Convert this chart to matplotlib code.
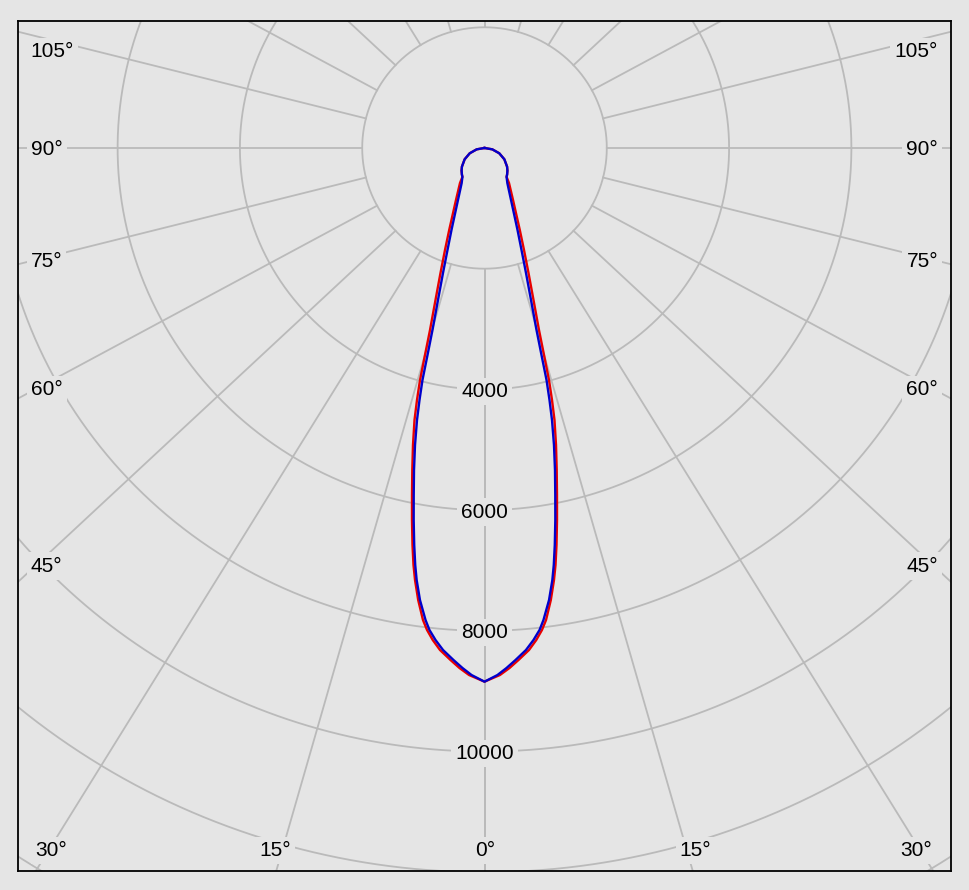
import numpy as np
import matplotlib
matplotlib.use('Agg')
import matplotlib.pyplot as plt

plt.rcParams['font.family'] = ['Liberation Sans', 'DejaVu Sans']

# ---------------- data (gamma angle in degrees, intensity in cd) ----------------
red_gamma = [0, 1.66, 2.72, 3.75, 5.00, 5.93, 6.71, 7.33, 8.24, 9.02, 9.54, 10.15,
             10.89, 11.65, 12.48, 13.37, 14.25, 14.81, 15.34, 15.84, 16.46, 17.65,
             19.16, 20.92, 23.02, 28.42, 34.64, 37, 40, 45, 50, 60, 70, 80, 90]
red_intensity = [8843, 8736, 8626, 8502, 8350, 8196, 8042, 7886, 7568, 7248, 7007, 6683,
                 6277, 5871, 5465, 5058, 4650, 4319, 3986, 3565, 3145, 2643,
                 2193, 1809, 1476, 980, 705, 600, 575, 530, 482, 375, 257, 130, 0]

blue_gamma = [0, 1.39, 2.39, 3.42, 4.66, 5.61, 6.43, 7.03, 8.02, 8.81, 9.31, 9.91,
              10.64, 11.38, 12.19, 13.00, 13.76, 14.28, 14.78, 15.20, 15.75, 16.80,
              18.14, 19.70, 21.67, 26.70, 32.74, 37, 40, 45, 50, 60, 70, 80, 90]
blue_intensity = [8843, 8735, 8624, 8499, 8346, 8192, 8037, 7880, 7564, 7244, 7002, 6678,
                  6272, 5865, 5459, 5051, 4640, 4309, 3976, 3554, 3133, 2631,
                  2180, 1795, 1462, 965, 690, 600, 575, 530, 482, 375, 257, 130, 0]

ring_values = [2000, 4000, 6000, 8000, 10000, 12000, 14000]
ring_label_values = [4000, 6000, 8000, 10000]
spoke_angles = list(range(0, 181, 15))
side_labels = ['105°', '90°', '75°', '60°', '45°']
bottom_labels = ['30°', '15°', '0°', '15°', '30°']

# ---------------- style ----------------
BG = '#e5e5e5'
GRID = '#bababa'
RED = '#e80000'
BLUE = '#0000cc'
FS = 15

fig = plt.figure(figsize=(9.69, 8.90), dpi=100, facecolor=BG)
ax = fig.add_axes([18 / 969, 19 / 890, 933 / 969, 850 / 890])
ax.set_facecolor(BG)
ax.set_xlim(-7629, 7629)
ax.set_ylim(-11980, 2104)
ax.set_xticks([])
ax.set_yticks([])
for s in ax.spines.values():
    s.set_linewidth(1.3)
    s.set_color('black')
    s.set_zorder(10)

# rings
t = np.linspace(0, 2 * np.pi, 1441)
for r in ring_values:
    ax.plot(r * np.cos(t), r * np.sin(t), color=GRID, lw=1.3, zorder=1)

# spokes (start at the first ring)
k = 1.061
for g in spoke_angles:
    gr = np.radians(g)
    for sgn in (1, -1):
        d = np.array([sgn * k * np.sin(gr), -np.cos(gr)])
        d /= np.hypot(*d)
        r0 = ring_values[0]
        ax.plot([r0 * d[0], 20000 * d[0]], [r0 * d[1], 20000 * d[1]],
                color=GRID, lw=1.3, zorder=1)

box = dict(boxstyle='square,pad=0.2', fc=BG, ec='none')

# radial labels
for v in ring_label_values:
    ax.text(0, -v, str(v), ha='center', va='center_baseline', fontsize=FS,
            color='black', bbox=box, zorder=2)

# angle labels
side_y = [0.966, 0.851, 0.719, 0.569, 0.361]
for lab, fy in zip(side_labels, side_y):
    ax.text(0.0136, fy, lab, transform=ax.transAxes, ha='left',
            va='center_baseline', fontsize=FS, bbox=box, zorder=2)
    ax.text(0.9861, fy, lab, transform=ax.transAxes, ha='right',
            va='center_baseline', fontsize=FS, bbox=box, zorder=2)
bottom_x = [0.0359, 0.2755, 0.5003, 0.7262, 0.9625]
for lab, fx in zip(bottom_labels, bottom_x):
    ax.text(fx, 0.0267, lab, transform=ax.transAxes, ha='center',
            va='center_baseline', fontsize=FS, bbox=box, zorder=2)


def curve(gam, inten):
    g = np.radians(np.array(gam, dtype=float))
    i = np.array(inten, dtype=float)
    gf = np.concatenate([-g[::-1], g[1:]])
    inf = np.concatenate([i[::-1], i[1:]])
    return inf * np.sin(gf), -inf * np.cos(gf)


xr, yr = curve(red_gamma, red_intensity)
ax.plot(xr, yr, color=RED, lw=1.7, zorder=3, solid_joinstyle='round')
xb, yb = curve(blue_gamma, blue_intensity)
ax.plot(xb, yb, color=BLUE, lw=1.7, zorder=4, solid_joinstyle='round')

fig.savefig('out.png', dpi=100, facecolor=BG)
